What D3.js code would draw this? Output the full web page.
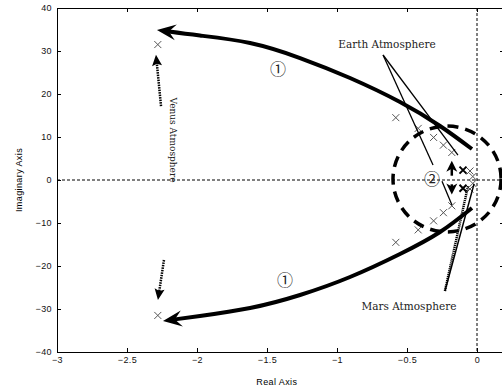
<!DOCTYPE html>
<html><head><meta charset="utf-8">
<script src="https://cdn.jsdelivr.net/npm/d3@7/dist/d3.min.js"></script>
<style>
html,body{margin:0;padding:0;background:#fff;}
svg{display:block;}
</style></head>
<body>
<svg id="c" width="502" height="392"></svg>
<script>
// ---- data ----
const xTicks = [-3, -2.5, -2, -1.5, -1, -0.5, 0];
const xTickLabels = ["\u22123", "\u22122.5", "\u22122", "\u22121.5", "\u22121", "\u22120.5", "0"];
const yTicks = [-40, -30, -20, -10, 0, 10, 20, 30, 40];
const yTickLabels = ["\u221240", "\u221230", "\u221220", "\u221210", "0", "10", "20", "30", "40"];
const polesReal = [-2.28, -2.28, -0.58, -0.58, -0.42, -0.42, -0.31, -0.31, -0.24, -0.24, -0.18, -0.18, -0.05, -0.05, -0.03, -0.03];
const polesImag = [31.5, -31.5, 14.5, -14.5, 12.0, -11.6, 9.9, -9.5, 8.1, -7.6, 6.4, -6.0, 2.1, -2.1, 0.8, -0.8];
const boldPolesReal = [-0.1, -0.1];
const boldPolesImag = [2.3, -1.9];
const upperPath = [[-0.036, 7.21], [-0.264, 12.56], [-0.55, 18.14], [-0.907, 23.72], [-1.264, 28.37], [-1.621, 31.86], [-1.979, 33.6], [-2.286, 34.88]];
const lowerPath = [[-0.036, -6.51], [-0.264, -12.09], [-0.55, -17.21], [-0.907, -22.56], [-1.264, -26.74], [-1.621, -29.77], [-1.979, -31.63], [-2.243, -32.79]];
const venusArrows = [[[-2.257, 17.2], [-2.293, 29.1]], [[-2.236, -18.6], [-2.279, -27.9]]];
const innerArrows = [[[-0.18, 1.0], [-0.18, 4.5]], [[-0.18, -1.0], [-0.18, -3.4]]];
const earthLines = [[[-0.671, 29.07], [-0.314, 3.49]], [[-0.671, 29.07], [-0.136, 5.81]], [[-0.25, -0.3], [-0.179, -5.8]]];
const marsLines = [[[-0.229, -25.8], [-0.064, -1.4]], [[-0.229, -25.8], [-0.021, -0.9]]];
const labels = [
  {text: "Earth Atmosphere", x: -0.643, y: 31.6},
  {text: "Mars Atmosphere", x: -0.486, y: -29.3}
];
const circled = [
  {text: "\u2460", x: -1.421, y: 25.8},
  {text: "\u2460", x: -1.371, y: -23.3},
  {text: "\u2461", x: -0.321, y: 0.2}
];
const region2 = {cx: -0.214, cy: 0.23, rx: 0.386, ry: 12.3};
const venusLabel = {text: "Venus Atmosphere", x: -2.171, y: 9.3};

// ---- chart ----
const svg = d3.select("#c");
const x = d3.scaleLinear().domain([-3, 0.2]).range([57, 505]);
const y = d3.scaleLinear().domain([-40, 40]).range([352, 8]);
const sans = "'Liberation Sans', Arial, sans-serif";
const serif = "'DejaVu Serif', serif";

// zero lines
svg.append("line").attr("x1", x(-3)).attr("x2", x(0.2)).attr("y1", y(0)).attr("y2", y(0))
  .attr("stroke", "#000").attr("stroke-width", 1).attr("stroke-dasharray", "3,2");
svg.append("line").attr("x1", x(0)).attr("x2", x(0)).attr("y1", y(40)).attr("y2", y(-40))
  .attr("stroke", "#000").attr("stroke-width", 1).attr("stroke-dasharray", "3,2");

// axes
const fmtX = d => xTickLabels[xTicks.indexOf(d)];
const fmtY = d => yTickLabels[yTicks.indexOf(d)];
const gB = svg.append("g").attr("transform", `translate(0,${y(-40)})`)
  .call(d3.axisBottom(x).tickValues(xTicks).tickFormat(fmtX).tickSizeInner(-4).tickSizeOuter(0).tickPadding(5));
const gT = svg.append("g").attr("transform", `translate(0,${y(40)})`)
  .call(d3.axisTop(x).tickValues(xTicks).tickFormat("").tickSizeInner(-4).tickSizeOuter(0));
const gL = svg.append("g").attr("transform", `translate(${x(-3)},0)`)
  .call(d3.axisLeft(y).tickValues(yTicks).tickFormat(fmtY).tickSizeInner(-4).tickSizeOuter(0).tickPadding(5));
const gR = svg.append("g").attr("transform", `translate(${x(0.2) - 1},0)`)
  .call(d3.axisRight(y).tickValues(yTicks).tickFormat("").tickSizeInner(-4).tickSizeOuter(0));
[gB, gT, gL, gR].forEach(g => {
  g.selectAll("path.domain").attr("stroke", "#000").attr("stroke-width", 1);
  g.selectAll("line").attr("stroke", "#000");
  g.selectAll("text").attr("font-family", sans).attr("font-size", 9).attr("fill", "#111")
    .attr("letter-spacing", 0.4);
});

// axis titles
svg.append("text").attr("x", x(-1.43)).attr("y", 385).attr("text-anchor", "middle")
  .attr("font-family", sans).attr("font-size", 9).attr("letter-spacing", 0.4).text("Real Axis");
svg.append("text").attr("transform", `translate(22,${y(0)}) rotate(-90)`).attr("text-anchor", "middle")
  .attr("font-family", sans).attr("font-size", 9).attr("letter-spacing", 0.4).text("Imaginary Axis");

// poles
function cross(g, px, py, s, w, color) {
  g.append("path").attr("d", `M${px - s},${py - s}L${px + s},${py + s}M${px - s},${py + s}L${px + s},${py - s}`)
    .attr("stroke", color).attr("stroke-width", w).attr("fill", "none");
}
const gp = svg.append("g");
polesReal.forEach((r, i) => cross(gp, x(r), y(polesImag[i]), 3.5, 1, "#555"));
boldPolesReal.forEach((r, i) => cross(gp, x(r), y(boldPolesImag[i]), 3.5, 2, "#000"));

// arrowhead helper
function arrowHead(g, p0, p1, len, hw, notch) {
  const ang = Math.atan2(p1[1] - p0[1], p1[0] - p0[0]);
  const c = Math.cos(ang), s = Math.sin(ang);
  const pt = (a, b) => [p1[0] - a * c - b * s, p1[1] - a * s + b * c];
  const pts = [p1, pt(len, hw), pt(notch, 0), pt(len, -hw)];
  g.append("path").attr("d", "M" + pts.map(p => p.join(",")).join("L") + "Z").attr("fill", "#000");
}

// thick curves (1)
const line = d3.line().x(d => x(d[0])).y(d => y(d[1])).curve(d3.curveNatural);
[upperPath, lowerPath].forEach(pth => {
  const tail = pth.slice(0, pth.length - 1);
  const ps = pth.map(d => [x(d[0]), y(d[1])]);
  const a = ps[ps.length - 2], b = ps[ps.length - 1];
  const ang = Math.atan2(b[1] - a[1], b[0] - a[0]);
  const stop = [b[0] - 12 * Math.cos(ang), b[1] - 12 * Math.sin(ang)];
  const data = tail.concat([[x.invert(stop[0]), y.invert(stop[1])]]);
  svg.append("path").attr("d", line(data)).attr("fill", "none").attr("stroke", "#000").attr("stroke-width", 4);
  arrowHead(svg, a, b, 19, 8, 12);
});

// venus dotted arrows
venusArrows.forEach(([s, e]) => {
  const p0 = [x(s[0]), y(s[1])], p1 = [x(e[0]), y(e[1])];
  const ang = Math.atan2(p1[1] - p0[1], p1[0] - p0[0]);
  svg.append("line").attr("x1", p0[0]).attr("y1", p0[1])
    .attr("x2", p1[0] - 8 * Math.cos(ang)).attr("y2", p1[1] - 8 * Math.sin(ang))
    .attr("stroke", "#000").attr("stroke-width", 2.5).attr("stroke-dasharray", "1.5,1");
  arrowHead(svg, p0, p1, 11, 5, 9);
});

// earth lines
earthLines.forEach(([s, e]) => {
  svg.append("line").attr("x1", x(s[0])).attr("y1", y(s[1])).attr("x2", x(e[0])).attr("y2", y(e[1]))
    .attr("stroke", "#000").attr("stroke-width", 1.3);
});
// mars lines (hatched)
marsLines.forEach(([s, e], i) => {
  svg.append("line").attr("x1", x(s[0])).attr("y1", y(s[1])).attr("x2", x(e[0])).attr("y2", y(e[1]))
    .attr("stroke", "#000").attr("stroke-width", i === 0 ? 2.5 : 1.5).attr("stroke-dasharray", i === 0 ? "1.2,0.8" : null);
});

// region (2) dashed ellipse
svg.append("ellipse").attr("cx", x(region2.cx)).attr("cy", y(region2.cy))
  .attr("rx", x(region2.cx + region2.rx) - x(region2.cx)).attr("ry", y(region2.cy - region2.ry) - y(region2.cy))
  .attr("fill", "none").attr("stroke", "#000").attr("stroke-width", 3.5).attr("stroke-dasharray", "11,7");

// inner arrows
innerArrows.forEach(([s, e]) => {
  const p0 = [x(s[0]), y(s[1])], p1 = [x(e[0]), y(e[1])];
  const ang = Math.atan2(p1[1] - p0[1], p1[0] - p0[0]);
  svg.append("line").attr("x1", p0[0]).attr("y1", p0[1])
    .attr("x2", p1[0] - 6 * Math.cos(ang)).attr("y2", p1[1] - 6 * Math.sin(ang))
    .attr("stroke", "#000").attr("stroke-width", 2.5);
  arrowHead(svg, p0, p1, 11, 5.5, 8);
});

// labels
labels.forEach(l => {
  svg.append("text").attr("x", x(l.x)).attr("y", y(l.y)).attr("dy", "0.35em").attr("text-anchor", "middle")
    .attr("font-family", serif).attr("font-size", 10.5).attr("fill", "#222").text(l.text);
});
svg.append("text").attr("transform", `translate(${x(venusLabel.x)},${y(venusLabel.y)}) rotate(90)`)
  .attr("text-anchor", "middle").attr("dy", "0.35em").attr("font-family", serif).attr("font-size", 9.5)
  .attr("textLength", 85).attr("lengthAdjust", "spacingAndGlyphs").attr("fill", "#222").text(venusLabel.text);
circled.forEach(c => {
  svg.append("text").attr("x", x(c.x)).attr("y", y(c.y)).attr("dy", "0.36em").attr("text-anchor", "middle")
    .attr("font-family", "'Noto Sans CJK JP', 'DejaVu Sans', sans-serif").attr("font-size", 16)
    .attr("fill", "#222").text(c.text);
});
</script>
</body></html>
